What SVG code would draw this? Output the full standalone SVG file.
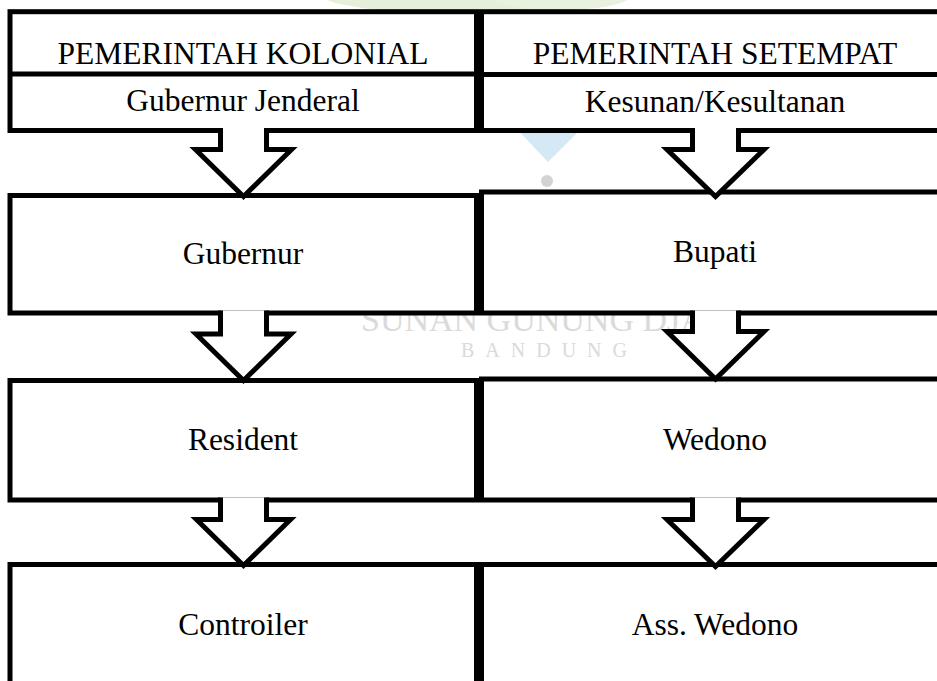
<svg xmlns="http://www.w3.org/2000/svg" width="937" height="681" viewBox="0 0 937 681">
<style>
.box{fill:#fff;stroke:#000;stroke-width:5}
.div{stroke:#000;stroke-width:5}
.lbl{font-family:"Liberation Serif","Times New Roman",serif;font-size:31.5px;fill:#000;text-anchor:middle}
.arr{fill:#fff;stroke:#000;stroke-width:5;stroke-linejoin:miter}
.wm{font-family:"Liberation Serif","Times New Roman",serif;fill:#dadada}
</style>
<rect width="937" height="681" fill="#fff"/>
<g id="watermark">
<ellipse cx="470" cy="-6" rx="150" ry="20" fill="#e6efda"/>
<ellipse cx="560" cy="-4" rx="70" ry="14" fill="#e9f1df"/>
<polygon points="516,128 582,128 548,162" fill="#d4e8f5"/>
<circle cx="547" cy="181" r="6" fill="#d3d3d3"/>
<text class="wm" x="361" y="331" font-size="34">SUNAN GUNUNG DJATI</text>
<text class="wm" x="461" y="357" font-size="20" letter-spacing="11">BANDUNG</text>
</g>
<g id="kolonial-header">
<rect class="box" x="10" y="11.7" width="466.5" height="118.8"/>
<line class="div" x1="10" y1="74" x2="476.5" y2="74"/>
<text class="lbl" x="243" y="63.5">PEMERINTAH KOLONIAL</text>
<text class="lbl" x="243" y="111">Gubernur Jenderal</text>
</g>
<g id="setempat-header">
<rect class="box" x="481.5" y="11.7" width="470" height="118.8"/>
<line class="div" x1="481.5" y1="74.5" x2="951" y2="74.5"/>
<text class="lbl" x="715" y="63.5">PEMERINTAH SETEMPAT</text>
<text class="lbl" x="715" y="112">Kesunan/Kesultanan</text>
</g>
<g id="gubernur">
<rect class="box" x="10" y="195.5" width="466.5" height="117.5"/>
<text class="lbl" x="243" y="264">Gubernur</text>
</g>
<g id="bupati">
<rect class="box" x="481.5" y="192" width="470" height="121"/>
<text class="lbl" x="715" y="262">Bupati</text>
</g>
<g id="resident">
<rect class="box" x="10" y="380.5" width="466.5" height="119.5"/>
<text class="lbl" x="243" y="449.5">Resident</text>
</g>
<g id="wedono">
<rect class="box" x="481.5" y="379" width="470" height="121"/>
<text class="lbl" x="715" y="449.5">Wedono</text>
</g>
<g id="controiler">
<rect class="box" x="10" y="564.5" width="466.5" height="140"/>
<text class="lbl" x="243" y="635">Controiler</text>
</g>
<g id="ass-wedono">
<rect class="box" x="481.5" y="564.5" width="470" height="140"/>
<text class="lbl" x="715" y="635">Ass. Wedono</text>
</g>
<g id="connectors">
<path class="arr" d="M220.5,128 V149.5 H195.5 L243.5,196.5 L291.5,149.5 H266.5 V128"/>
<path class="arr" d="M220.5,310.5 V334 H196 L243.5,380.5 L291,334 H266.5 V310.5"/>
<path class="arr" d="M220.5,497.5 V519.5 H196.5 L243.5,565.5 L290.5,519.5 H266.5 V497.5"/>
<path class="arr" d="M692.5,128 V149.5 H667 L715.5,196.5 L764,149.5 H738.5 V128"/>
<path class="arr" d="M692.5,310.5 V331.5 H667 L715.5,379 L764,331.5 H738.5 V310.5"/>
<path class="arr" d="M692.5,497.5 V519.5 H667 L715.5,566.5 L764,519.5 H738.5 V497.5"/>
</g>
</svg>
